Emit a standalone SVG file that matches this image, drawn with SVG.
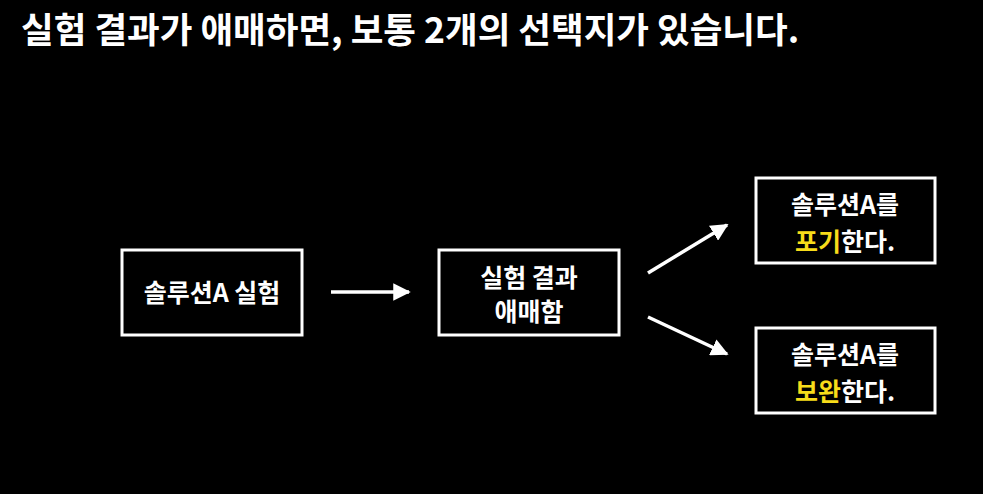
<svg xmlns="http://www.w3.org/2000/svg" width="983" height="494" viewBox="0 0 983 494">
<defs>
<style>
.t{font-family:"Noto Sans CJK KR","Noto Sans",sans-serif;font-weight:700;fill:#fff}
.title{font-size:35.5px}
.lbl{font-size:25px;text-anchor:middle}
.y{fill:#f7dc1a}
.box{fill:#000;stroke:#fff;stroke-width:3}
.con{stroke:#fff;stroke-width:3.5;fill:none}
</style>
<marker id="ah" viewBox="0 0 10 10" refX="9" refY="5" markerWidth="5" markerHeight="5" orient="auto" markerUnits="strokeWidth">
<path d="M0,0 L10,5 L0,10 z" fill="#fff"/>
</marker>
</defs>
<rect width="983" height="494" fill="#000"/>
<text class="t title" x="21" y="43">실험 결과가 애매하면, 보통 2개의 선택지가 있습니다.</text>
<g id="connectors">
<line class="con" x1="331" y1="292" x2="409" y2="292" marker-end="url(#ah)"/>
<line class="con" x1="648" y1="273" x2="727" y2="225" marker-end="url(#ah)"/>
<line class="con" x1="648" y1="317" x2="727" y2="354" marker-end="url(#ah)"/>
</g>
<g id="n1">
<rect class="box" x="122" y="250" width="180" height="85"/>
<text class="t lbl" x="212" y="302">솔루션A 실험</text>
</g>
<g id="n2">
<rect class="box" x="439" y="250" width="180" height="85"/>
<text class="t lbl" x="529" y="287">실험 결과</text>
<text class="t lbl" x="529" y="321">애매함</text>
</g>
<g id="n3">
<rect class="box" x="756" y="178" width="179" height="85"/>
<text class="t lbl" x="845" y="214">솔루션A를</text>
<text class="t lbl" x="845" y="251"><tspan class="y">포기</tspan>한다.</text>
</g>
<g id="n4">
<rect class="box" x="756" y="328" width="179" height="85"/>
<text class="t lbl" x="845" y="364">솔루션A를</text>
<text class="t lbl" x="845" y="401"><tspan class="y">보완</tspan>한다.</text>
</g>
</svg>
